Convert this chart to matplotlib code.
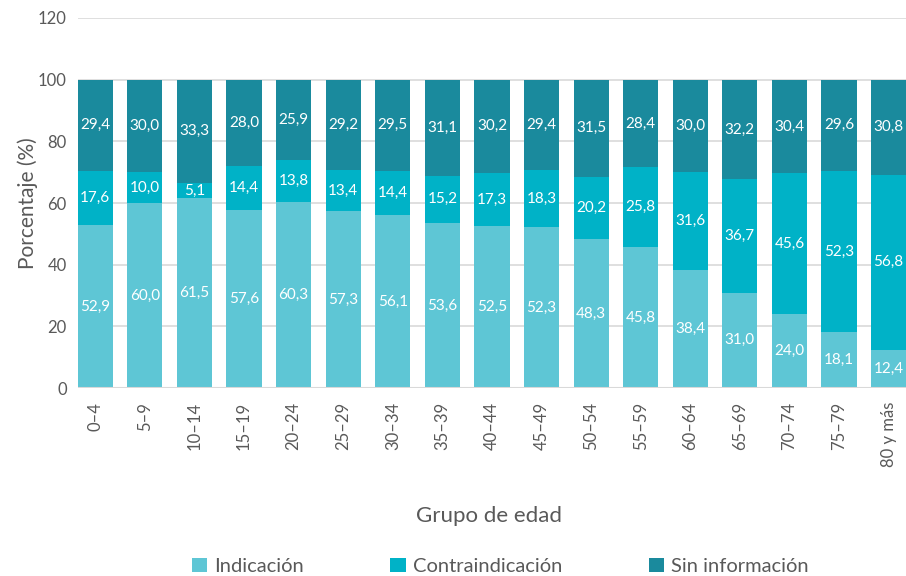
import matplotlib
matplotlib.use("Agg")
import matplotlib.pyplot as plt
import numpy as np

categories = ["0–4", "5–9", "10–14", "15–19", "20–24", "25–29", "30–34", "35–39",
              "40–44", "45–49", "50–54", "55–59", "60–64", "65–69", "70–74", "75–79", "80 y más"]
indicacion = [52.9, 60.0, 61.5, 57.6, 60.3, 57.3, 56.1, 53.6, 52.5, 52.3, 48.3, 45.8, 38.4, 31.0, 24.0, 18.1, 12.4]
contraindicacion = [17.6, 10.0, 5.1, 14.4, 13.8, 13.4, 14.4, 15.2, 17.3, 18.3, 20.2, 25.8, 31.6, 36.7, 45.6, 52.3, 56.8]
sin_info = [29.4, 30.0, 33.3, 28.0, 25.9, 29.2, 29.5, 31.1, 30.2, 29.4, 31.5, 28.4, 30.0, 32.2, 30.4, 29.6, 30.8]
series_names = ["Indicación", "Contraindicación", "Sin información"]
colors = ["#5EC6D5", "#00B2C7", "#1A8A9D"]
yticks = [0, 20, 40, 60, 80, 100, 120]

plt.rcParams['font.family'] = ['Lato', 'DejaVu Sans']
text_color = "#595959"

fig = plt.figure(figsize=(9.06, 5.76), dpi=100)
ax = fig.add_axes([0.086, 0.326, 0.914, 0.643])

x = np.arange(len(categories))
bottom = np.zeros(len(categories))
for vals, name, col in zip([indicacion, contraindicacion, sin_info], series_names, colors):
    vals = np.array(vals)
    ax.bar(x, vals, 0.71, bottom=bottom, color=col, label=name, zorder=3)
    for xi, b, v in zip(x, bottom, vals):
        ax.text(xi, b + v / 2, f"{v:.1f}".replace(".", ","), ha="center", va="center",
                color="white", fontsize=11, zorder=4)
    bottom += vals

ax.set_xlim(-0.35, len(categories) - 0.65)
ax.set_ylim(0, 120)
ax.set_yticks(yticks)
ax.set_yticklabels([str(t) for t in yticks], fontsize=12, color=text_color)
ax.set_xticks(x)
ax.set_xticklabels(categories, rotation=90, fontsize=12, color=text_color)
ax.tick_params(axis="both", length=0)
ax.tick_params(axis="x", pad=10)
ax.tick_params(axis="y", pad=8)
ax.yaxis.grid(True, color="#D9D9D9", linewidth=1.2, zorder=0)
for s in ax.spines.values():
    s.set_visible(False)
ax.axhline(0, color="#D9D9D9", linewidth=1.5, zorder=5)

ax.set_ylabel("Porcentaje (%)", fontsize=15, color=text_color, labelpad=0)
fig.text(0.54, 0.105, "Grupo de edad", ha="center", va="center", fontsize=16, color=text_color)

handles, labels = ax.get_legend_handles_labels()
leg = fig.legend(handles, labels, loc="center", bbox_to_anchor=(0.552, 0.017), ncol=3,
                 frameon=False, fontsize=14.5, handlelength=0.75, handleheight=0.75,
                 columnspacing=4.3, handletextpad=0.35, labelcolor=text_color)

fig.savefig("out.png", dpi=100)
